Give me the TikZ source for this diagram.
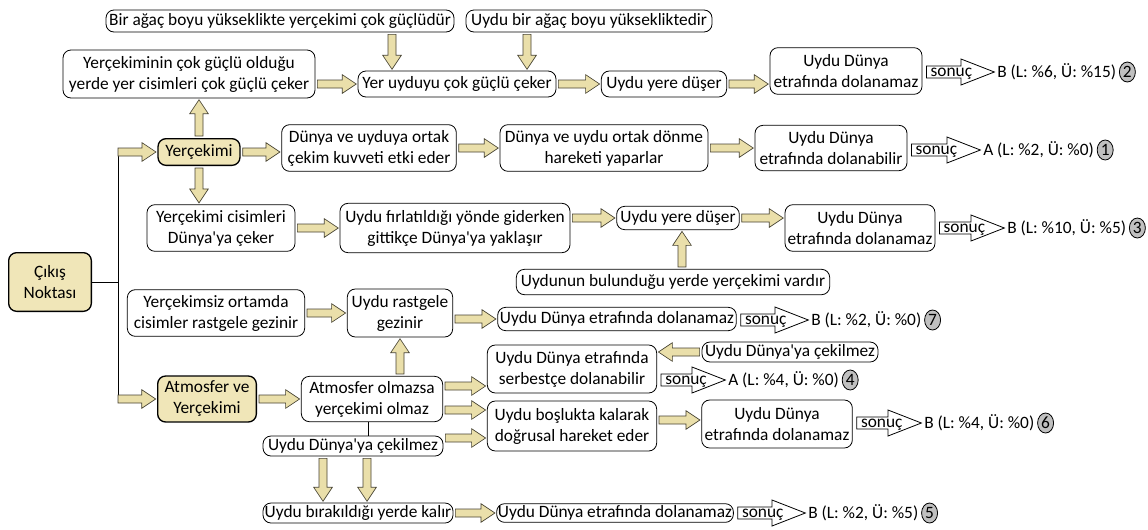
\documentclass[tikz,border=0pt]{standalone}
\usepackage{fontspec}
\setmainfont{Carlito}
\usepackage{tikz}
\usetikzlibrary{shapes.geometric, positioning, calc}
\definecolor{bej}{RGB}{240,230,184}
\definecolor{okbej}{RGB}{234,223,170}
\definecolor{okkenar}{RGB}{70,66,50}
\definecolor{daire}{RGB}{192,192,192}
\newcommand{\tirnak}{\textquotesingle}

\tikzset{
    blok/.style n args={5}{line join=miter,
        to path={let \p1=($(\tikztostart)!#1!(\tikztotarget)$),
                     \p2=($(\tikztotarget)!#2!(\tikztostart)$),
                     \p3=($(\p2)!#5!(\p1)$) in
            ($(\p1)!#3!90:(\p2)$) -- ($(\p3)!#3!90:(\p2)$) -- ($(\p3)!#4!90:(\p2)$)
            -- (\p2) -- ($(\p3)!#4!-90:(\p2)$) -- ($(\p3)!#3!-90:(\p2)$)
            -- ($(\p1)!#3!-90:(\p2)$) -- cycle}},
}
\tikzstyle{kutu} = [draw, rounded corners=6pt, fill=white, align=center, inner sep=1pt, line width=0.6pt, font=\fontsize{13}{15.75}\selectfont]
\tikzstyle{anakutu} = [kutu, fill=bej, line width=1pt]
\tikzstyle{ok} = [blok={1.5pt}{1pt}{3pt}{7pt}{10.5pt}, draw=okkenar, fill=okbej, line width=0.5pt]
\tikzstyle{sonucok} = [blok={3pt}{2pt}{4.5pt}{9.75pt}{25pt}, draw, fill=white, line width=0.6pt]
\tikzstyle{sonucyazi} = [inner sep=0pt, font=\fontsize{13}{15}\selectfont]
\tikzstyle{numara} = [ellipse, draw, fill=daire, line width=0.6pt, inner sep=0pt,
    minimum width=12pt, minimum height=15pt, font=\fontsize{13}{15}\selectfont]

\begin{document}
\begin{tikzpicture}[x=0.75pt, y=-0.75pt]
    \useasboundingbox (0,0) rectangle (1148,529);

    % Ana kutular
    \node[anakutu, minimum width=62pt, minimum height=44pt] (cikis) at (50,282) {Çıkış\\Noktası};
    \node[anakutu, minimum width=61.5pt, minimum height=20pt] (yercekimi) at (199,152) {Yerçekimi};
    \node[anakutu, minimum width=74pt, minimum height=34.5pt] (atmosfer) at (207,399) {Atmosfer ve\\Yerçekimi};

    % Yercekimi dali
    \node[kutu, minimum width=261pt, minimum height=16.5pt] (agac) at (280,21) {Bir ağaç boyu yükseklikte yerçekimi çok güçlüdür};
    \node[kutu, minimum width=184.5pt, minimum height=16.5pt] (agacuydu) at (589,21) {Uydu bir ağaç boyu yüksekliktedir};
    \node[kutu, minimum width=189pt, minimum height=36pt] (guclu) at (189,74) {Yerçekiminin çok güçlü olduğu\\yerde yer cisimleri çok güçlü çeker};
    \node[kutu, minimum width=148.5pt, minimum height=19.5pt] (cekiyor) at (457,84) {Yer uyduyu çok güçlü çeker};
    \node[kutu, minimum width=94pt, minimum height=19.5pt] (duser1) at (664,84) {Uydu yere düşer};
    \node[kutu, minimum width=114pt, minimum height=35pt] (dolan2) at (846,71) {Uydu Dünya\\etrafında dolanamaz};

    \node[kutu, minimum width=131pt, minimum height=35pt] (ortak) at (369,148) {Dünya ve uyduya ortak\\çekim kuvveti etki eder};
    \node[kutu, minimum width=156pt, minimum height=35pt] (donme) at (604,148) {Dünya ve uydu ortak dönme\\hareketi yaparlar};
    \node[kutu, minimum width=114pt, minimum height=34pt] (dolan1) at (831,148) {Uydu Dünya\\etrafında dolanabilir};

    \node[kutu, minimum width=111pt, minimum height=35pt] (ceker) at (221,228) {Yerçekimi cisimleri\\Dünya\tirnak{}ya çeker};
    \node[kutu, minimum width=172.5pt, minimum height=37pt] (firlat) at (455,228) {Uydu fırlatıldığı yönde giderken\\gittikçe Dünya\tirnak{}ya yaklaşır};
    \node[kutu, minimum width=92pt, minimum height=17.5pt] (duser2) at (678,218) {Uydu yere düşer};
    \node[kutu, minimum width=112.5pt, minimum height=35pt] (dolan3) at (860,228) {Uydu Dünya\\etrafında dolanamaz};
    \node[kutu, minimum width=235pt, minimum height=19pt] (vardir) at (673,282) {Uydunun bulunduğu yerde yerçekimi vardır};

    % Yercekimsiz ortam
    \node[kutu, minimum width=133pt, minimum height=35pt] (yercekimsiz) at (216,313) {Yerçekimsiz ortamda\\cisimler rastgele gezinir};
    \node[kutu, minimum width=79pt, minimum height=36pt] (rastgele) at (400,313) {Uydu rastgele\\gezinir};
    \node[kutu, minimum width=179pt, minimum height=17.5pt] (dolan7) at (617,319) {Uydu Dünya etrafında dolanamaz};

    % Atmosfer dali
    \node[kutu, minimum width=106pt, minimum height=34pt] (olmazsa) at (372,399) {Atmosfer olmazsa\\yerçekimi olmaz};
    \node[kutu, minimum width=135pt, minimum height=15pt] (cekilmez1) at (353,446) {Uydu Dünya\tirnak{}ya çekilmez};
    \node[kutu, minimum width=142.5pt, minimum height=15pt] (kalir) at (358,513) {Uydu bırakıldığı yerde kalır};
    \node[kutu, minimum width=127pt, minimum height=36pt] (serbest) at (572,369) {Uydu Dünya etrafında\\serbestçe dolanabilir};
    \node[kutu, minimum width=132pt, minimum height=15pt] (cekilmez2) at (790,352) {Uydu Dünya\tirnak{}ya çekilmez};
    \node[kutu, minimum width=127pt, minimum height=37.5pt] (bosluk) at (572,426) {Uydu boşlukta kalarak\\doğrusal hareket eder};
    \node[kutu, minimum width=113pt, minimum height=36pt] (dolan6) at (777,424) {Uydu Dünya\\etrafında dolanamaz};
    \node[kutu, minimum width=177pt, minimum height=14pt] (dolan5) at (615,513) {Uydu Dünya etrafında dolanamaz};

    % Govde
    \coordinate (gtop) at (118,152);
    \coordinate (gbot) at (118,399);
    \draw[line width=0.6pt] (cikis.east) -- (cikis.east -| gtop);
    \draw[line width=0.6pt] ([yshift=3pt]gtop) -- ([yshift=-3pt]gbot);
    \draw[line width=0.6pt] ([xshift=-3pt]olmazsa.south) -- ([xshift=-3pt]olmazsa.south |- cekilmez1.north);

    % Oklar
    \draw[ok] ([xshift=-1.5pt]gtop) to (yercekimi.west);
    \draw[ok] ([xshift=-1.5pt]gbot) to (atmosfer.west);
    \draw[ok] ([xshift=-48.75pt]cekiyor.north |- agac.south) to ([xshift=-48.75pt]cekiyor.north);
    \draw[ok] ([xshift=52.5pt]cekiyor.north |- agacuydu.south) to ([xshift=52.5pt]cekiyor.north);
    \draw[ok] (cekiyor.west -| guclu.east) to (cekiyor.west);
    \draw[ok] (cekiyor.east) to (duser1.west);
    \draw[ok] (duser1.east) to (duser1.east -| dolan2.west);
    \draw[ok] (yercekimi.north) to (yercekimi.north |- guclu.south);
    \draw[ok] (yercekimi.south) to (yercekimi.south |- ceker.north);
    \draw[ok] (yercekimi.east) to (yercekimi.east -| ortak.west);
    \draw[ok] (ortak.east) to (donme.west);
    \draw[ok] (donme.east) to (dolan1.west);
    \draw[ok] (ceker.east) to (ceker.east -| firlat.west);
    \draw[ok] (duser2.west -| firlat.east) to (duser2.west);
    \draw[ok] (duser2.east) to (duser2.east -| dolan3.west);
    \draw[ok] ([xshift=3pt]duser2.south |- vardir.north) to ([xshift=3pt]duser2.south);
    \draw[ok] (yercekimsiz.east) to (yercekimsiz.east -| rastgele.west);
    \draw[ok] (dolan7.west -| rastgele.east) to (dolan7.west);
    \draw[ok] (rastgele.south |- olmazsa.north) to (rastgele.south);
    \draw[ok] (atmosfer.east) to (olmazsa.west);
    \draw[ok] ([yshift=9.75pt]olmazsa.east) to ([yshift=9.75pt]olmazsa.east -| serbest.west);
    \draw[ok] ([yshift=-8.25pt]olmazsa.east) to ([yshift=-8.25pt]olmazsa.east -| bosluk.west);
    \draw[ok] ([yshift=6pt]cekilmez1.east) to ([yshift=6pt]cekilmez1.east -| bosluk.west);
    \draw[ok] ([yshift=4.5pt]bosluk.east) to ([yshift=4.5pt]bosluk.east -| dolan6.west);
    \draw[ok] (cekilmez2.west) to (cekilmez2.west -| serbest.east);
    \draw[ok] ([xshift=-22.5pt]cekilmez1.south) to ([xshift=-22.5pt]cekilmez1.south |- kalir.north);
    \draw[ok] ([xshift=10.5pt]cekilmez1.south) to ([xshift=10.5pt]cekilmez1.south |- kalir.north);
    \draw[ok] (kalir.east) to (kalir.east -| dolan5.west);

    % Sonuclar
    \foreach \k/\kutuadi/\rx/\ry/\metin in {2/dolan2/997/72/{B (L: \%6, Ü: \%15)}, 1/dolan1/983/150/{A (L: \%2, Ü: \%0)},
        3/dolan3/1007/228/{B (L: \%10, Ü: \%5)}, 7/dolan7/811/320/{B (L: \%2, Ü: \%0)}, 4/serbest/728/380/{A (L: \%4, Ü: \%0)},
        6/dolan6/924/423/{B (L: \%4, Ü: \%0)}, 5/dolan5/808/513/{B (L: \%2, Ü: \%5)}}
    {
        \node[sonucyazi, anchor=west] (r\k) at (\rx,\ry) {\metin};
        \node[numara, right=2pt of r\k] (n\k) {\k};
        \draw[sonucok] (r\k.west -| \kutuadi.east) to (r\k.west);
        \node[sonucyazi, anchor=west, yshift=-1.4pt] (e\k) at ([xshift=6pt]r\k.west -| \kutuadi.east) {sonuç};
    }
\end{tikzpicture}
\end{document}
